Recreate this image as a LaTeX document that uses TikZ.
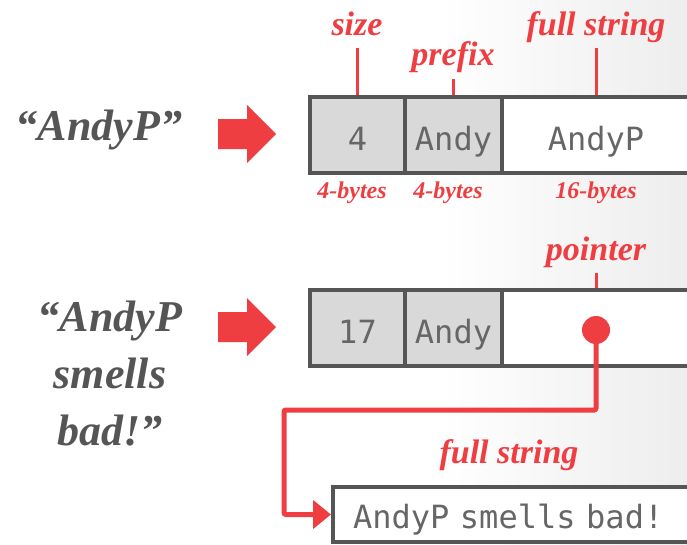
\documentclass[tikz,border=0pt]{standalone}
\usepackage{fontspec}
\setmainfont{Liberation Serif}
\setmonofont{DejaVu Sans Mono}
\usepackage{xcolor}
\definecolor{hred}{HTML}{EF3E42}
\definecolor{hgray}{HTML}{555555}
\definecolor{hfill}{HTML}{D9D9D9}
\usepackage{tikz}
\usetikzlibrary{arrows.meta}
\usetikzlibrary{positioning}

\begin{document}
\begin{tikzpicture}[x=1pt,y=-1pt,line width=4pt,
    cell/.style={draw=hgray,fill=hfill,minimum height=76pt,inner sep=0pt,text=hgray!90,
      font=\fontsize{32}{32}\selectfont\ttfamily,text height=32pt,text depth=0pt},
    lbl/.style={text=hred,font=\fontsize{34}{34}\selectfont\bfseries\itshape,inner sep=0pt,anchor=base},
    bytes/.style={text=hred,font=\fontsize{24}{24}\selectfont\bfseries\itshape,inner sep=0pt,anchor=base},
    quote/.style={text=hgray,font=\fontsize{44}{57}\selectfont\bfseries\itshape,align=center,inner sep=0pt,anchor=base},
    tick/.style={draw=hred,line width=3pt},
    ptr/.style={draw=hred,line width=5pt,rounded corners=2pt,-{Triangle[length=18pt,width=28pt]}}]
  \useasboundingbox (0,0) rectangle (687,544);
  \clip (0,0) rectangle (687,544);
  % background
  \fill[white] (0,0) rectangle (687,544);
  \shade[left color=white,right color=black!7] (440,0) rectangle (687,544);

  % short string
  \node[quote] (q1) at (99,140) {“AndyP”};
  \node[cell] (c1) at (357.5,134.5) [minimum width=95pt] {4};
  \node[cell] (c2) at (453.5,134.5) [minimum width=97pt] {Andy};
  \node[cell,fill=white] (c3) at (596,134.5) [minimum width=188pt] {AndyP};
  \node[lbl] (lsize) at (357,35) {size};
  \node[lbl] (lprefix) at (453,65) {prefix};
  \node[lbl] (lfull) at (596,35) {full string};
  \draw[tick] ([yshift=-13pt]lsize.base) -- (lsize.base |- c1.north);
  \draw[tick] ([yshift=-14pt]lprefix.base) -- (lprefix.base |- c2.north);
  \draw[tick] ([yshift=-13pt]lfull.base) -- (lfull.base |- c3.north);
  \node[bytes] (b1) at (352,198) {4-bytes};
  \node[bytes] (b2) at (448,198) {4-bytes};
  \node[bytes] (b3) at (596,198) {16-bytes};

  % long string
  \node[quote] (q2) at (110,445) {“AndyP\\smells\\bad!”};
  \node[cell] (d1) at (357.5,327.5) [minimum width=95pt] {17};
  \node[cell] (d2) at (453.5,327.5) [minimum width=97pt] {Andy};
  \node[cell,fill=white] (d3) at (596,327.5) [minimum width=188pt] {};
  \node[lbl] (lptr) at (596,260) {pointer};
  \draw[tick] ([yshift=-13pt]lptr.base) -- (lptr.base |- d3.north);
  \node[circle,fill=hred,minimum size=28pt,inner sep=0pt] (dot) at (596,330) {};

  \node[cell,fill=white,anchor=west,minimum height=55pt,text width=380pt,align=left,
        inner xsep=20pt,text height=27pt] (full) at (331,514.5) {AndyP smells bad!};
  \node[lbl] (lfull2) at (509,463) {full string};
  \coordinate (bend1) at (596,410);
  \coordinate (bend2) at (284,410);
  \draw[ptr] (dot.center) -- (bend1) -- (bend2) |- (full.west);

  % block arrows
  \foreach \yy in {134,327}
    \fill[hred] (218,\yy-15) -- (247,\yy-15) -- (247,\yy-29) -- (276,\yy)
      -- (247,\yy+29) -- (247,\yy+15) -- (218,\yy+15) -- cycle;
\end{tikzpicture}
\end{document}
